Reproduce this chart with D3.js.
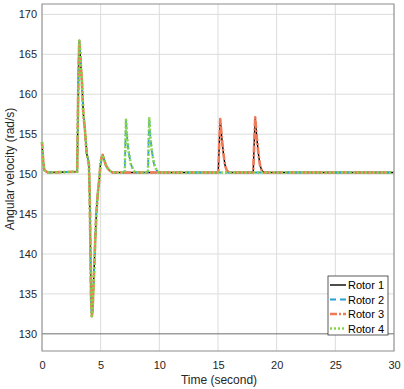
<!DOCTYPE html>
<html>
<head>
<meta charset="utf-8">
<script src="https://cdn.jsdelivr.net/npm/d3@7"></script>
<style>
html,body{margin:0;padding:0;background:#fff;}
svg{display:block;font-family:"Liberation Sans",Arial,sans-serif;}
</style>
</head>
<body>
<svg id="chart" width="404" height="389"></svg>
<script>
// Shared time samples (seconds)
const time = [0,0.1,0.2,0.5,3.0,3.03,3.07,3.12,3.18,3.24,3.3,3.41,3.52,3.66,3.81,4.0,4.05,4.09,4.14,4.18,4.24,4.3,4.35,4.49,4.63,4.75,4.88,4.97,5.06,5.17,5.3,5.45,5.6,5.8,6.0,
  7.05,7.1,7.16,7.22,7.36,7.56,7.78,7.95,
  9.03,9.08,9.14,9.2,9.34,9.54,9.76,9.93,
  15.02,15.1,15.19,15.32,15.46,15.6,15.74,15.92,
  18.0,18.08,18.17,18.3,18.44,18.58,18.72,18.9,
  30];

const rotor1 = [154.0,151.6,150.5,150.2,150.3,154.0,158.5,163.5,166.7,165.5,163.8,161.3,157.6,155.5,152.6,151.2,148.5,145.0,139.0,134.5,132.2,132.8,134.5,140.0,145.0,147.5,149.3,151.0,152.0,152.4,151.8,151.1,150.7,150.4,150.2,
  150.2,150.2,150.2,150.2,150.2,150.2,150.2,150.2,
  150.2,150.2,150.2,150.2,150.2,150.2,150.2,150.2,
  150.2,153.5,156.9,154.6,152.6,151.1,150.5,150.2,
  150.2,153.6,157.1,154.7,152.6,151.1,150.5,150.2,
  150.2];
const rotor2 = [154.0,151.6,150.5,150.2,150.3,154.0,158.5,163.5,166.7,165.5,163.8,161.3,157.6,155.5,152.6,151.2,148.5,145.0,139.0,134.5,132.2,132.8,134.5,140.0,145.0,147.5,149.3,151.0,152.0,152.4,151.8,151.1,150.7,150.4,150.2,
  150.2,153.5,156.8,155.1,153.0,151.3,150.5,150.2,
  150.2,153.6,157.0,155.2,153.1,151.3,150.5,150.2,
  150.2,150.2,150.2,150.2,150.2,150.2,150.2,150.2,
  150.2,150.2,150.2,150.2,150.2,150.2,150.2,150.2,
  150.2];
const rotor3 = [154.0,151.6,150.5,150.2,150.3,154.0,158.5,163.5,166.7,165.5,163.8,161.3,157.6,155.5,152.6,151.2,148.5,145.0,139.0,134.5,132.2,132.8,134.5,140.0,145.0,147.5,149.3,151.0,152.0,152.4,151.8,151.1,150.7,150.4,150.2,
  150.2,150.2,150.2,150.2,150.2,150.2,150.2,150.2,
  150.2,150.2,150.2,150.2,150.2,150.2,150.2,150.2,
  150.2,153.5,156.9,154.6,152.6,151.1,150.5,150.2,
  150.2,153.6,157.1,154.7,152.6,151.1,150.5,150.2,
  150.2];
const rotor4 = [154.0,151.6,150.5,150.2,150.3,154.0,158.5,163.5,166.7,165.5,163.8,161.3,157.6,155.5,152.6,151.2,148.5,145.0,139.0,134.5,132.2,132.8,134.5,140.0,145.0,147.5,149.3,151.0,152.0,152.4,151.8,151.1,150.7,150.4,150.2,
  150.2,153.5,156.8,155.1,153.0,151.3,150.5,150.2,
  150.2,153.6,157.0,155.2,153.1,151.3,150.5,150.2,
  150.2,150.2,150.2,150.2,150.2,150.2,150.2,150.2,
  150.2,150.2,150.2,150.2,150.2,150.2,150.2,150.2,
  150.2];

const seriesNames = ["Rotor 1","Rotor 2","Rotor 3","Rotor 4"];
const xTicks = [0,5,10,15,20,25,30];
const yTicks = [130,135,140,145,150,155,160,165,170];

const styles = [
  {color:"#000000", width:1.4, dash:null},
  {color:"#2a9fd6", width:1.8, dash:"6,4"},
  {color:"#ef7a58", width:2.6, dash:"7,2,2,2"},
  {color:"#86d44a", width:2.6, dash:"2,2"}
];

const svg = d3.select("#chart");
const m = {left:42, right:394, top:4, bottom:351};
const x = d3.scaleLinear().domain([0,30]).range([m.left, m.right]);
const y = d3.scaleLinear().domain([127.85,171.3]).range([m.bottom, m.top]);

// gridlines
const g = svg.append("g");
g.selectAll(".gx").data(xTicks).join("line")
  .attr("x1",d=>x(d)).attr("x2",d=>x(d)).attr("y1",m.top).attr("y2",m.bottom)
  .attr("stroke","#dcdcdc").attr("stroke-width",1);
g.selectAll(".gy").data(yTicks).join("line")
  .attr("y1",d=>y(d)).attr("y2",d=>y(d)).attr("x1",m.left).attr("x2",m.right)
  .attr("stroke",d=>d===130?"#6e6e6e":"#dcdcdc").attr("stroke-width",1);

// box
svg.append("rect").attr("x",m.left).attr("y",m.top)
  .attr("width",m.right-m.left).attr("height",m.bottom-m.top)
  .attr("fill","none").attr("stroke","#8c8c8c").attr("stroke-width",1);

// axes
const xAxis = d3.axisBottom(x).tickValues(xTicks).tickSize(0).tickPadding(10);
const yAxis = d3.axisLeft(y).tickValues(yTicks).tickSize(0).tickPadding(5);
const gx = svg.append("g").attr("transform",`translate(0,${m.bottom})`).call(xAxis);
const gy = svg.append("g").attr("transform",`translate(${m.left},0)`).call(yAxis);
[gx,gy].forEach(a=>{
  a.select(".domain").remove();
  a.selectAll("text").attr("font-size","11px").attr("fill","#262626")
    .attr("font-family","Liberation Sans, Arial, sans-serif");
});

// lines
const allSeries = [rotor1, rotor2, rotor3, rotor4];
const line = d3.line().x((d,i)=>x(time[i])).y(d=>y(d));
const lg = svg.append("g");
allSeries.forEach((s,k)=>{
  lg.append("path").datum(s).attr("d",line)
    .attr("fill","none").attr("stroke",styles[k].color)
    .attr("stroke-width",styles[k].width)
    .attr("stroke-dasharray",styles[k].dash)
    .attr("stroke-linejoin","round");
});

// axis labels
svg.append("text").attr("x",219).attr("y",383.5)
  .attr("text-anchor","middle").attr("font-size","12px").attr("fill","#262626")
  .text("Time (second)");
svg.append("text").attr("transform",`translate(14,169) rotate(-90)`)
  .attr("text-anchor","middle").attr("font-size","12px").attr("fill","#262626")
  .text("Angular velocity (rad/s)");

// legend
const leg = svg.append("g").attr("transform","translate(328,276)");
leg.append("rect").attr("width",60).attr("height",59)
  .attr("fill","#fff").attr("stroke","#333").attr("stroke-width",0.8);
seriesNames.forEach((n,k)=>{
  const yy = 9 + k*14.5;
  leg.append("line").attr("x1",2).attr("x2",18).attr("y1",yy).attr("y2",yy)
    .attr("stroke",styles[k].color).attr("stroke-width",styles[k].width)
    .attr("stroke-dasharray",styles[k].dash);
  leg.append("text").attr("x",20).attr("y",yy+4).attr("font-size","11px")
    .attr("fill","#000").text(n);
});
</script>
</body>
</html>
